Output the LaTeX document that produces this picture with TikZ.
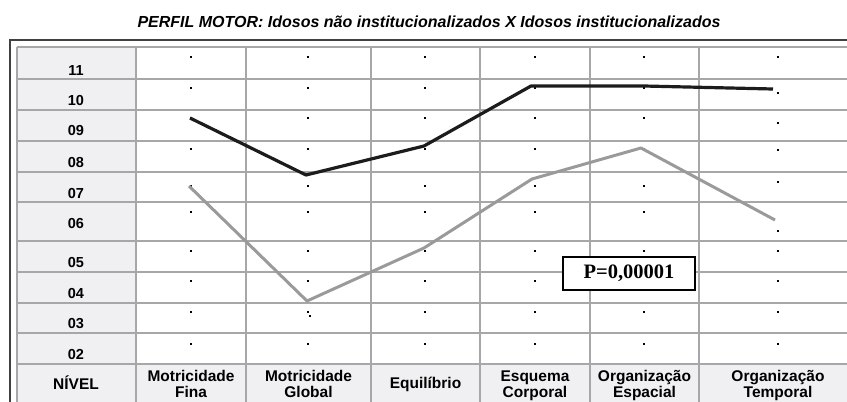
\documentclass[tikz,border=0pt]{standalone}
\usepackage{fontspec}
\setmainfont{Liberation Serif}
\setsansfont{Liberation Sans}
\usetikzlibrary{positioning}
\definecolor{gridgray}{HTML}{A7A7A9}
\definecolor{cellgray}{HTML}{F0F0F2}
\definecolor{lowgray}{HTML}{9A9A9A}
\definecolor{highblack}{HTML}{1C1C1C}
\tikzstyle{gridline} = [draw=gridgray,line width=2pt]
\tikzstyle{rowlabel} = [anchor=base,inner sep=0,font=\sffamily\bfseries\fontsize{14.5}{16}\selectfont]
\tikzstyle{colhead} = [anchor=base,inner sep=0,align=center,font=\sffamily\bfseries\fontsize{15.5}{16}\selectfont]
\tikzstyle{curvehigh} = [draw=highblack,line width=3.2pt,line join=round]
\tikzstyle{curvelow} = [draw=lowgray,line width=3pt,line join=round]
\tikzstyle{pbox} = [draw=black,line width=1.3pt,fill=white,inner sep=0,minimum width=132pt,minimum height=33pt,font=\bfseries\fontsize{20.5}{22}\selectfont]
\def \dotsz {2}

\begin{document}
\begin{tikzpicture}[x=1pt,y=-1pt]
  \useasboundingbox (0,0) rectangle (847,402);
  \clip (0,0) rectangle (847,402);
  \node[anchor=base,inner sep=0,font=\sffamily\bfseries\itshape\fontsize{16}{18}\selectfont] (title) at (429,27)
    {PERFIL MOTOR: Idosos não institucionalizados X Idosos institucionalizados};
  % frame and shaded cells
  \draw[draw=black!75,line width=1.3pt] (10,420) -- (10,40) -- (870,40);
  \fill[cellgray] (17,47) rectangle (136,420);
  \fill[cellgray] (17,364) rectangle (870,420);
  \foreach \y in {47,79,110,141,172,202,241,272,303,333,364}
    \draw[gridline] (17,\y) -- (870,\y);
  \foreach \x in {17,136,246,371,480,590,699}
    \draw[gridline] (\x,47) -- (\x,420);
  % dots
  \foreach \x in {191,308,425,535,644}
    \foreach \y in {57,88,118,149,186,212,251,281,312,344}
      \fill (\x-1,\y-1) rectangle +(\dotsz,\dotsz);
  \foreach \y in {57,93,123,150,182,231,251,281,312,344}
    \fill (777,\y-1) rectangle +(\dotsz,\dotsz);
  \fill (309,315) rectangle +(\dotsz,\dotsz);
  % levels
  \foreach \lab/\y in {11/75,10/105,09/135,08/167,07/198,06/228,05/267,04/298,03/328,02/359}
    \node[rowlabel] (lv\lab) at (76,\y) {\lab};
  % headers
  \node[colhead] (hnivel) at (76,389) {NÍVEL};
  \node[colhead] (hfina) at (191,397) {Motricidade\\Fina};
  \node[colhead] (hglobal) at (308.5,397) {Motricidade\\Global};
  \node[colhead] (hequil) at (425.5,388) {Equilíbrio};
  \node[colhead] (hesq) at (535,397) {Esquema\\Corporal};
  \node[colhead] (hesp) at (644.5,397) {Organização\\Espacial};
  \node[colhead] (htemp) at (778,397) {Organização\\Temporal};
  % curves
  \coordinate (b1) at (190,118);
  \coordinate (b2) at (306,175);
  \coordinate (b3) at (424,146);
  \coordinate (b4) at (531,86);
  \coordinate (b5) at (644,86);
  \coordinate (b6) at (773,89);
  \coordinate (g1) at (189,186);
  \coordinate (g2) at (307,301);
  \coordinate (g3) at (424,248);
  \coordinate (g4) at (532,179);
  \coordinate (g5) at (641,148);
  \coordinate (g6) at (775,220);
  \draw[curvehigh] (b1) -- (b2) -- (b3) -- (b4) -- (b5) -- (b6);
  \draw[curvelow] (g1) -- (g2) -- (g3) -- (g4) -- (g5) -- (g6);
  \node[pbox] (pval) at (629,273.5) {P=0,00001};
\end{tikzpicture}
\end{document}
